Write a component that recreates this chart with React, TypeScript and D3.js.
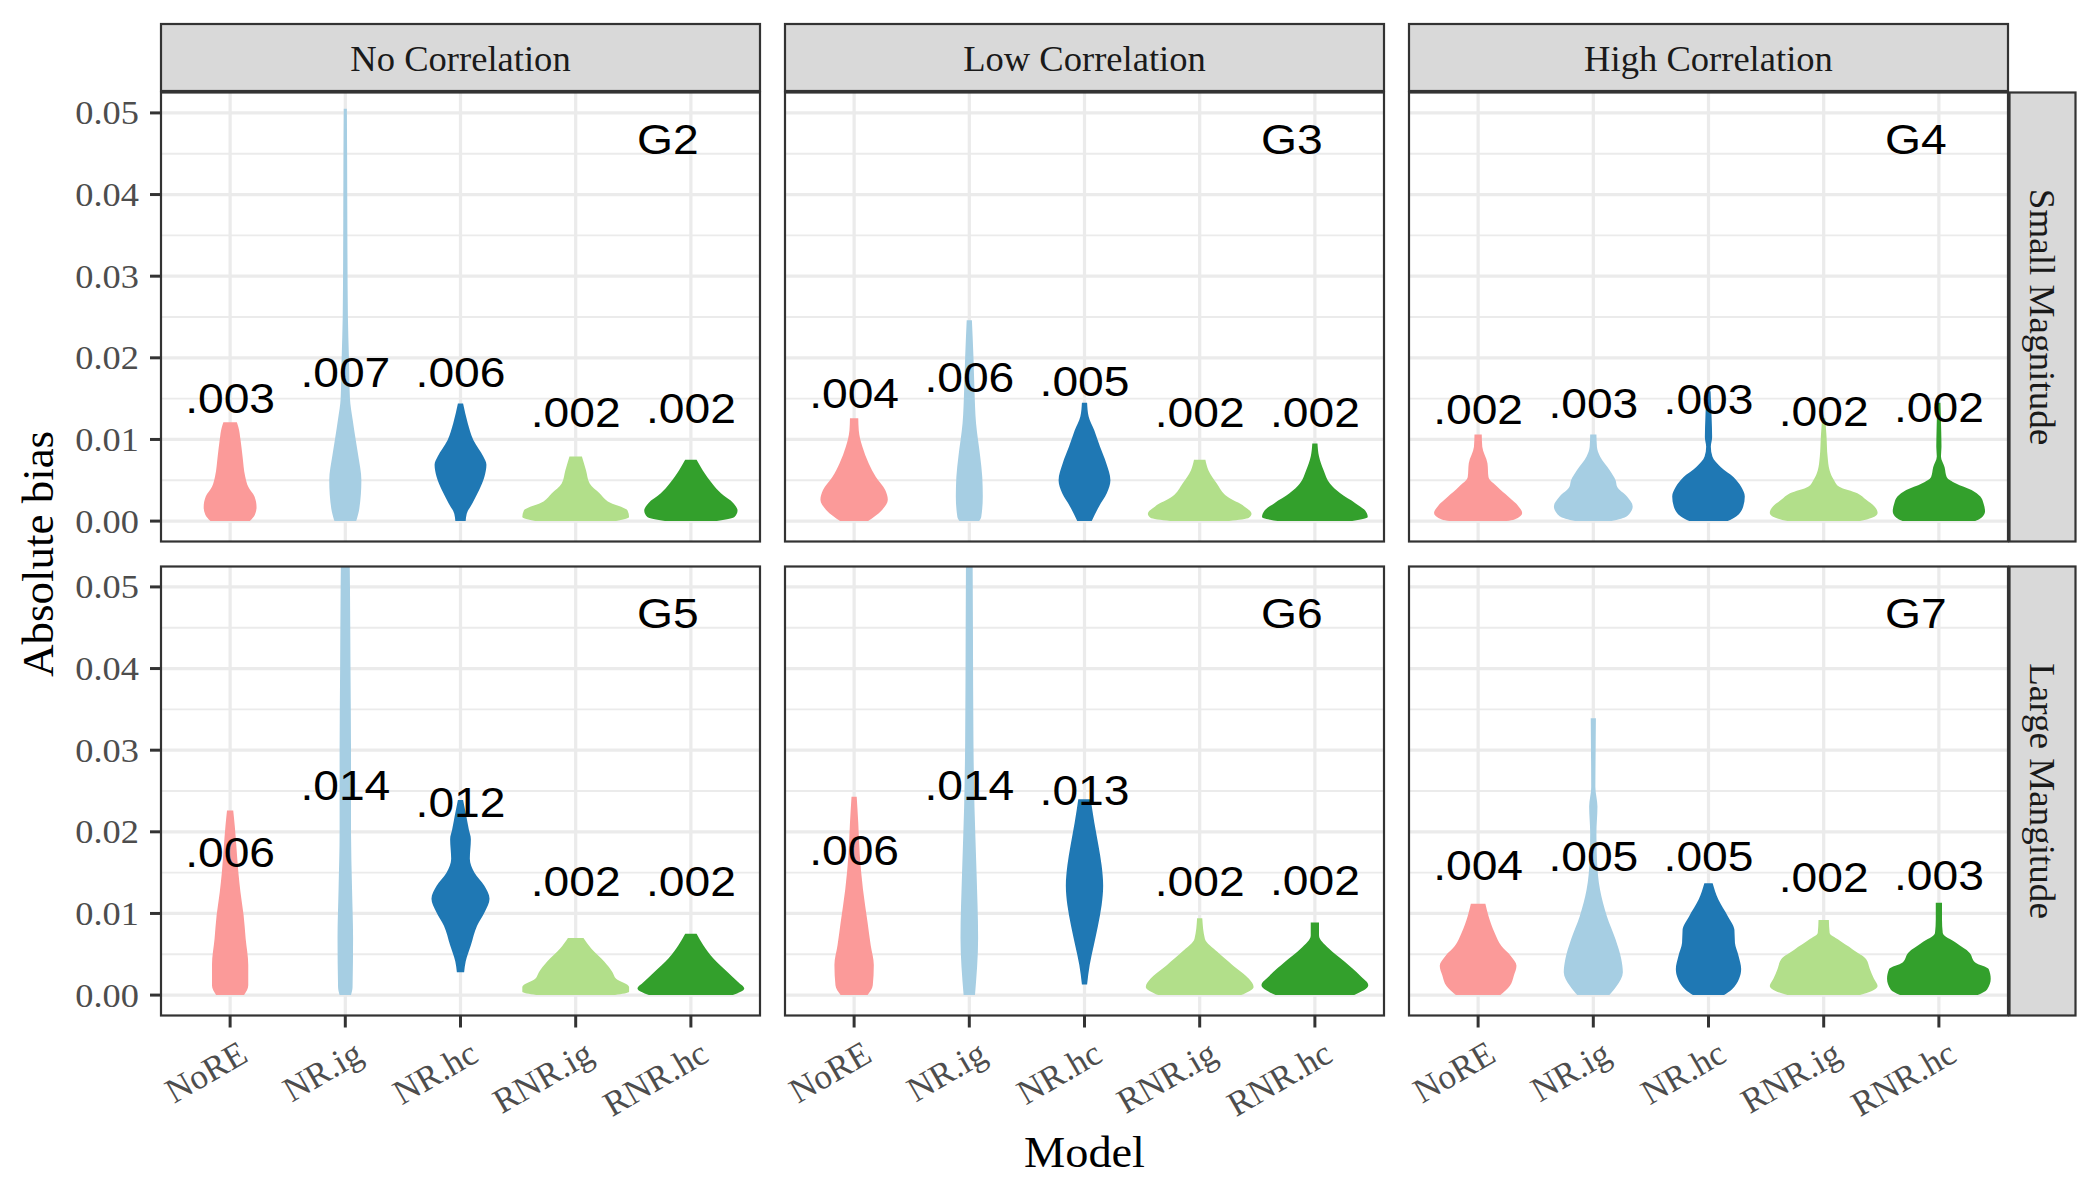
import * as d3 from 'd3'

type Pt = [number, number] // [absolute bias, half width as share of the max violin width]

const MODELS = ['NoRE', 'NR.ig', 'NR.hc', 'RNR.ig', 'RNR.hc']
const FILLS = ['#FB9A99', '#A6CEE3', '#1F78B4', '#B2DF8A', '#33A02C']
const COL_LABELS = ['No Correlation', 'Low Correlation', 'High Correlation']
const ROW_LABELS = ['Small Magnitude', 'Large Mangitude']
const Y_TICKS = [0, 0.01, 0.02, 0.03, 0.04, 0.05]
const Y_MINOR = [0.005, 0.015, 0.025, 0.035, 0.045]

// violin outlines, bottom to top
const G2_SHAPES: Pt[][] = [
  [[0, 0.38], [0.0008, 0.48], [0.0017, 0.51], [0.003, 0.47], [0.0042, 0.35], [0.0055, 0.29], [0.0079, 0.24], [0.01, 0.2], [0.0115, 0.16], [0.0121, 0.13]],
  [[0, 0.21], [0.0015, 0.27], [0.005, 0.31], [0.008, 0.25], [0.01, 0.2], [0.0125, 0.14], [0.015, 0.09], [0.02, 0.07], [0.025, 0.05], [0.035, 0.04], [0.045, 0.035], [0.0505, 0.03]],
  [[0, 0.1], [0.0009, 0.12], [0.0022, 0.23], [0.0038, 0.36], [0.0054, 0.46], [0.0069, 0.5], [0.0079, 0.44], [0.0099, 0.25], [0.012, 0.14], [0.0144, 0.05]],
  [[0, 0.78], [0.0005, 1.03], [0.0013, 1.0], [0.0024, 0.62], [0.0034, 0.46], [0.0046, 0.27], [0.0062, 0.2], [0.0079, 0.12]],
  [[0, 0.5], [0.0005, 0.84], [0.0013, 0.9], [0.0022, 0.82], [0.0034, 0.58], [0.0046, 0.41], [0.0062, 0.23], [0.0075, 0.11]],
]
const G3_SHAPES: Pt[][] = [
  [[0, 0.27], [0.0013, 0.53], [0.0026, 0.65], [0.0038, 0.6], [0.0054, 0.42], [0.0071, 0.28], [0.0091, 0.16], [0.0111, 0.09], [0.0126, 0.08]],
  [[0, 0.19], [0.0005, 0.23], [0.003, 0.26], [0.0054, 0.25], [0.0079, 0.21], [0.012, 0.13], [0.016, 0.1], [0.0201, 0.08], [0.0246, 0.05]],
  [[0, 0.14], [0.0018, 0.28], [0.0034, 0.43], [0.005, 0.5], [0.0071, 0.42], [0.0091, 0.3], [0.0111, 0.19], [0.0128, 0.08], [0.0145, 0.05]],
  [[0, 0.57], [0.0004, 0.95], [0.0009, 1.0], [0.0018, 0.86], [0.003, 0.53], [0.0046, 0.33], [0.0062, 0.17], [0.0075, 0.11]],
  [[0, 0.72], [0.0005, 1.02], [0.0013, 0.97], [0.0022, 0.78], [0.0034, 0.49], [0.0046, 0.29], [0.0062, 0.17], [0.0079, 0.08], [0.0095, 0.05]],
]
const G4_SHAPES: Pt[][] = [
  [[0, 0.55], [0.0002, 0.7], [0.001, 0.85], [0.0018, 0.78], [0.003, 0.58], [0.0042, 0.37], [0.0054, 0.2], [0.0071, 0.18], [0.0091, 0.08], [0.0106, 0.07]],
  [[0, 0.35], [0.0006, 0.65], [0.0018, 0.76], [0.003, 0.65], [0.0042, 0.46], [0.005, 0.43], [0.0062, 0.32], [0.0079, 0.13], [0.0091, 0.07], [0.0106, 0.06]],
  [[0, 0.37], [0.0006, 0.54], [0.0018, 0.67], [0.003, 0.7], [0.0042, 0.63], [0.0054, 0.48], [0.0066, 0.24], [0.0079, 0.075], [0.0091, 0.045], [0.0103, 0.07], [0.0127, 0.06], [0.0159, 0.04]],
  [[0, 0.7], [0.0004, 0.93], [0.001, 1.04], [0.0018, 0.98], [0.0026, 0.82], [0.0034, 0.65], [0.0042, 0.3], [0.005, 0.2], [0.0062, 0.115], [0.0079, 0.075], [0.0103, 0.055], [0.0126, 0.03]],
  [[0, 0.7], [0.0004, 0.82], [0.0012, 0.89], [0.0022, 0.86], [0.003, 0.8], [0.0038, 0.63], [0.0046, 0.33], [0.0054, 0.15], [0.0066, 0.11], [0.0079, 0.04], [0.0091, 0.05], [0.011, 0.045], [0.0145, 0.03]],
]
const G5_SHAPES: Pt[][] = [
  [[0, 0.27], [0.0012, 0.35], [0.0037, 0.35], [0.0069, 0.3], [0.0098, 0.26], [0.0126, 0.2], [0.015, 0.16], [0.0183, 0.12], [0.0207, 0.09], [0.0226, 0.06]],
  [[0, 0.11], [0.001, 0.14], [0.007, 0.15], [0.013, 0.13], [0.02, 0.11], [0.03, 0.11], [0.04, 0.1], [0.05, 0.09], [0.06, 0.07]],
  [[0.0028, 0.07], [0.0041, 0.1], [0.0061, 0.2], [0.0085, 0.32], [0.0102, 0.47], [0.0118, 0.56], [0.0134, 0.46], [0.015, 0.27], [0.0167, 0.18], [0.0191, 0.2], [0.0203, 0.16], [0.022, 0.11], [0.0239, 0.05]],
  [[0, 0.76], [0.0004, 1.03], [0.001, 1.03], [0.002, 0.78], [0.0028, 0.71], [0.0041, 0.55], [0.0057, 0.3], [0.007, 0.15]],
  [[0, 0.81], [0.0008, 1.03], [0.0016, 0.91], [0.0028, 0.71], [0.0045, 0.43], [0.0061, 0.24], [0.0075, 0.11]],
]
const G6_SHAPES: Pt[][] = [
  [[0, 0.26], [0.0012, 0.36], [0.0037, 0.38], [0.0061, 0.32], [0.0089, 0.26], [0.013, 0.17], [0.0171, 0.11], [0.0211, 0.08], [0.0243, 0.05]],
  [[0, 0.11], [0.007, 0.17], [0.015, 0.14], [0.023, 0.1], [0.031, 0.08], [0.045, 0.07], [0.06, 0.06]],
  [[0.0013, 0.05], [0.0037, 0.1], [0.0061, 0.18], [0.0085, 0.26], [0.011, 0.33], [0.0134, 0.36], [0.0159, 0.33], [0.0183, 0.27], [0.0211, 0.19], [0.024, 0.12]],
  [[0, 0.8], [0.001, 1.04], [0.002, 0.95], [0.0037, 0.63], [0.0053, 0.34], [0.0069, 0.1], [0.0094, 0.05]],
  [[0, 0.76], [0.0012, 1.03], [0.0024, 0.87], [0.0041, 0.57], [0.0057, 0.27], [0.0073, 0.08], [0.0089, 0.08]],
]
const G7_SHAPES: Pt[][] = [
  [[0, 0.43], [0.0011, 0.61], [0.0024, 0.69], [0.0036, 0.74], [0.0048, 0.63], [0.006, 0.45], [0.0076, 0.32], [0.0097, 0.2], [0.0112, 0.14]],
  [[0, 0.31], [0.0011, 0.45], [0.0028, 0.57], [0.0044, 0.54], [0.0068, 0.43], [0.0097, 0.26], [0.0129, 0.13], [0.0166, 0.07], [0.0198, 0.06], [0.0231, 0.08], [0.0255, 0.04], [0.03, 0.045], [0.0339, 0.05]],
  [[0, 0.3], [0.0007, 0.45], [0.002, 0.59], [0.0032, 0.63], [0.0048, 0.58], [0.0064, 0.51], [0.008, 0.5], [0.0097, 0.37], [0.0117, 0.19], [0.0137, 0.08]],
  [[0, 0.7], [0.0005, 0.93], [0.0011, 1.04], [0.002, 0.97], [0.0032, 0.89], [0.0044, 0.82], [0.0056, 0.56], [0.0068, 0.28], [0.0076, 0.115], [0.0092, 0.1]],
  [[0, 0.75], [0.0007, 0.93], [0.002, 1.0], [0.0032, 0.96], [0.004, 0.7], [0.0052, 0.59], [0.0064, 0.33], [0.0076, 0.075], [0.0093, 0.06], [0.0113, 0.06]],
]

// printed means and the height of their baseline
const G2_MEANS = ['.003', '.007', '.006', '.002', '.002']
const G3_MEANS = ['.004', '.006', '.005', '.002', '.002']
const G4_MEANS = ['.002', '.003', '.003', '.002', '.002']
const G5_MEANS = ['.006', '.014', '.012', '.002', '.002']
const G6_MEANS = ['.006', '.014', '.013', '.002', '.002']
const G7_MEANS = ['.004', '.005', '.005', '.002', '.003']
const G2_MEAN_Y = [0.0132, 0.01645, 0.01645, 0.01155, 0.01196]
const G3_MEAN_Y = [0.0138, 0.01584, 0.0153, 0.01155, 0.01155]
const G4_MEAN_Y = [0.0119, 0.0126, 0.0131, 0.0117, 0.0121]
const G5_MEAN_Y = [0.01565, 0.0239, 0.02187, 0.0121, 0.0121]
const G6_MEAN_Y = [0.01594, 0.0239, 0.02325, 0.0121, 0.0123]
const G7_MEAN_Y = [0.01415, 0.01516, 0.01516, 0.0126, 0.0129]

const PANELS = [
  { id: 'G2', row: 0, col: 0, shapes: G2_SHAPES, means: G2_MEANS, meanY: G2_MEAN_Y },
  { id: 'G3', row: 0, col: 1, shapes: G3_SHAPES, means: G3_MEANS, meanY: G3_MEAN_Y },
  { id: 'G4', row: 0, col: 2, shapes: G4_SHAPES, means: G4_MEANS, meanY: G4_MEAN_Y },
  { id: 'G5', row: 1, col: 0, shapes: G5_SHAPES, means: G5_MEANS, meanY: G5_MEAN_Y },
  { id: 'G6', row: 1, col: 1, shapes: G6_SHAPES, means: G6_MEANS, meanY: G6_MEAN_Y },
  { id: 'G7', row: 1, col: 2, shapes: G7_SHAPES, means: G7_MEANS, meanY: G7_MEAN_Y },
]

const WIDTH = 2100
const HEIGHT = 1200
const PANEL_X = [161, 785, 1409]
const PANEL_Y = [92.5, 566.5]
const PANEL_W = 599
const PANEL_H = 449
const STRIP_TOP = 24
const STRIP_RIGHT_W = 66

const SERIF = '"Liberation Serif", "Times New Roman", Times, serif'
const SANS = '"Liberation Sans", Arial, Helvetica, sans-serif'
const GRID = '#EBEBEB'
const DARK = '#333333'

export default function App() {
  const fmt = d3.format('.2f')

  return (
    <svg
      width={WIDTH}
      height={HEIGHT}
      viewBox={`0 0 ${WIDTH} ${HEIGHT}`}
      style={{ position: 'absolute', left: 0, top: 0, background: '#fff' }}
    >
      <defs>
        {PANELS.map((p) => (
          <clipPath key={p.id} id={`clip-${p.id}`}>
            <rect x={PANEL_X[p.col]} y={PANEL_Y[p.row]} width={PANEL_W} height={PANEL_H} />
          </clipPath>
        ))}
      </defs>

      {PANELS.map((p) => {
        const x0 = PANEL_X[p.col]
        const y0 = PANEL_Y[p.row]
        const x = d3.scalePoint<string>().domain(MODELS).range([x0, x0 + PANEL_W]).padding(0.6)
        const y = d3.scaleLinear().domain([-0.0025, 0.0525]).range([y0 + PANEL_H, y0])
        const halfMax = 0.45 * x.step()
        const gx = d3.scaleLinear().domain([0.4, 5.6]).range([x0, x0 + PANEL_W])

        return (
          <g key={p.id}>
            <rect x={x0} y={y0} width={PANEL_W} height={PANEL_H} fill="#fff" />
            {Y_MINOR.map((v) => (
              <line key={`mn${v}`} x1={x0} x2={x0 + PANEL_W} y1={y(v)} y2={y(v)} stroke={GRID} strokeWidth={1.8} />
            ))}
            {Y_TICKS.map((v) => (
              <line key={`mj${v}`} x1={x0} x2={x0 + PANEL_W} y1={y(v)} y2={y(v)} stroke={GRID} strokeWidth={3.2} />
            ))}
            {MODELS.map((m) => (
              <line key={`vx${m}`} x1={x(m)} x2={x(m)} y1={y0} y2={y0 + PANEL_H} stroke={GRID} strokeWidth={3.2} />
            ))}

            <g clipPath={`url(#clip-${p.id})`}>
              {p.shapes.map((shape, i) => {
                const cx = x(MODELS[i]) as number
                const area = d3
                  .area<Pt>()
                  .y((d) => y(d[0]))
                  .x0((d) => cx - d[1] * halfMax)
                  .x1((d) => cx + d[1] * halfMax)
                  .curve(d3.curveMonotoneY)
                return <path key={MODELS[i]} d={area(shape) ?? undefined} fill={FILLS[i]} />
              })}
            </g>

            {p.means.map((t, i) => (
              <text
                key={`m${i}`}
                transform={`translate(${x(MODELS[i])},${y(p.meanY[i])}) scale(1.1,1)`}
                textAnchor="middle"
                fontFamily={SANS}
                fontSize={42}
                fill="#000"
              >
                {t}
              </text>
            ))}
            <text
              transform={`translate(${gx(4.8)},${y(0.045)}) scale(1.1,1)`}
              textAnchor="middle"
              fontFamily={SANS}
              fontSize={42}
              fill="#000"
            >
              {p.id}
            </text>

            <rect x={x0} y={y0} width={PANEL_W} height={PANEL_H} fill="none" stroke={DARK} strokeWidth={2.2} />

            {p.col === 0 &&
              Y_TICKS.map((v) => (
                <g key={`yt${v}`}>
                  <line x1={x0 - 11} x2={x0} y1={y(v)} y2={y(v)} stroke={DARK} strokeWidth={3} />
                  <text
                    transform={`translate(${x0 - 22},${y(v)}) scale(1.07,1)`}
                    dy="0.34em"
                    textAnchor="end"
                    fontFamily={SERIF}
                    fontSize={34}
                    fill="#4D4D4D"
                  >
                    {fmt(v)}
                  </text>
                </g>
              ))}

            {p.row === 1 &&
              MODELS.map((m) => (
                <g key={`xt${m}`}>
                  <line x1={x(m)} x2={x(m)} y1={y0 + PANEL_H} y2={y0 + PANEL_H + 12} stroke={DARK} strokeWidth={3} />
                  <text
                    transform={`translate(${(x(m) as number) + 7},${y0 + PANEL_H + 23}) rotate(-30)`}
                    dy="0.72em"
                    textAnchor="end"
                    fontFamily={SERIF}
                    fontSize={35}
                    fill="#4D4D4D"
                  >
                    {m}
                  </text>
                </g>
              ))}

            {p.row === 0 && (
              <g>
                <rect
                  x={x0}
                  y={STRIP_TOP}
                  width={PANEL_W}
                  height={y0 - STRIP_TOP - 1.5}
                  fill="#D9D9D9"
                  stroke={DARK}
                  strokeWidth={2.2}
                />
                <text
                  transform={`translate(${x0 + PANEL_W / 2},${(STRIP_TOP + y0) / 2}) scale(1.045,1)`}
                  dy="0.35em"
                  textAnchor="middle"
                  fontFamily={SERIF}
                  fontSize={35}
                  fill="#1A1A1A"
                >
                  {COL_LABELS[p.col]}
                </text>
              </g>
            )}

            {p.col === 2 && (
              <g>
                <rect
                  x={x0 + PANEL_W + 1.5}
                  y={y0}
                  width={STRIP_RIGHT_W}
                  height={PANEL_H}
                  fill="#D9D9D9"
                  stroke={DARK}
                  strokeWidth={2.2}
                />
                <text
                  transform={`translate(${x0 + PANEL_W + 1.5 + STRIP_RIGHT_W / 2},${y0 + PANEL_H / 2}) rotate(90) scale(1.06,1)`}
                  dy="0.35em"
                  textAnchor="middle"
                  fontFamily={SERIF}
                  fontSize={35}
                  fill="#1A1A1A"
                >
                  {ROW_LABELS[p.row]}
                </text>
              </g>
            )}
          </g>
        )
      })}

      <text
        transform={`translate(${PANEL_X[0] + (PANEL_X[2] + PANEL_W - PANEL_X[0]) / 2},1167) scale(1.03,1)`}
        textAnchor="middle"
        fontFamily={SERIF}
        fontSize={45}
        fill="#000"
      >
        Model
      </text>
      <text
        transform={`translate(53,${(PANEL_Y[0] + PANEL_Y[1] + PANEL_H) / 2}) rotate(-90)`}
        textAnchor="middle"
        fontFamily={SERIF}
        fontSize={45}
        fill="#000"
      >
        Absolute bias
      </text>
    </svg>
  )
}
